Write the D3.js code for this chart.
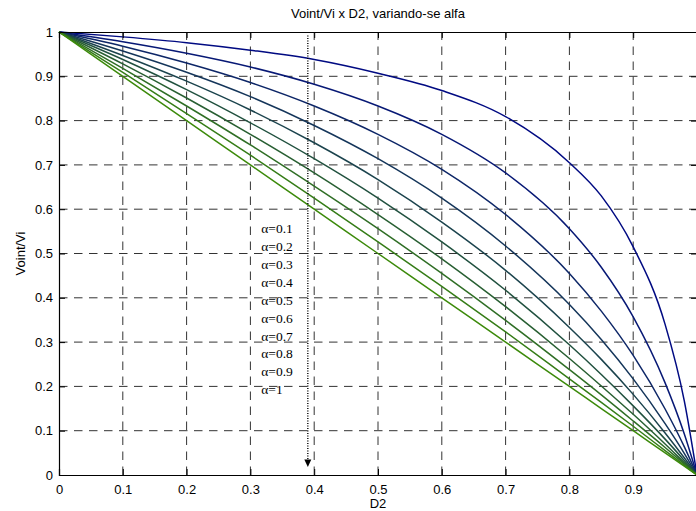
<!DOCTYPE html>
<html>
<head>
<meta charset="utf-8">
<script src="https://cdn.jsdelivr.net/npm/d3@7"></script>
<style>
    body { margin: 0; background: #fff; }
    svg { display: block; font-family: 'Liberation Sans', Arial, sans-serif; }
</style>
</head>
<body>
<div id="chart"></div>
<script>
// D2 sample points (x axis)
const d2 = [0, 0.1, 0.2, 0.3, 0.4, 0.5, 0.6, 0.7, 0.8, 0.85, 0.9, 0.95, 0.98, 1];

// alfa values, one curve each
const alphas = [0.1, 0.2, 0.3, 0.4, 0.5, 0.6, 0.7, 0.8, 0.9, 1];

// Voint/Vi, one row per alfa
const a01 = [1, 0.989, 0.976, 0.959, 0.938, 0.907, 0.868, 0.809, 0.705, 0.630, 0.515, 0.340, 0.168, 0];
const a02 = [1, 0.978, 0.952, 0.921, 0.882, 0.833, 0.769, 0.682, 0.556, 0.469, 0.357, 0.208, 0.093, 0];
const a03 = [1, 0.968, 0.930, 0.886, 0.833, 0.769, 0.690, 0.588, 0.455, 0.370, 0.270, 0.149, 0.064, 0];
const a04 = [1, 0.957, 0.909, 0.854, 0.789, 0.714, 0.625, 0.517, 0.385, 0.306, 0.217, 0.116, 0.049, 0];
const a05 = [1, 0.947, 0.889, 0.824, 0.750, 0.667, 0.571, 0.462, 0.333, 0.261, 0.182, 0.095, 0.039, 0];
const a06 = [1, 0.938, 0.870, 0.795, 0.714, 0.625, 0.526, 0.417, 0.294, 0.227, 0.156, 0.081, 0.033, 0];
const a07 = [1, 0.928, 0.851, 0.769, 0.682, 0.588, 0.488, 0.380, 0.263, 0.201, 0.137, 0.070, 0.028, 0];
const a08 = [1, 0.918, 0.833, 0.745, 0.652, 0.556, 0.455, 0.349, 0.238, 0.181, 0.122, 0.062, 0.025, 0];
const a09 = [1, 0.909, 0.816, 0.722, 0.625, 0.526, 0.426, 0.323, 0.217, 0.164, 0.110, 0.055, 0.022, 0];
const a10 = [1, 0.900, 0.800, 0.700, 0.600, 0.500, 0.400, 0.300, 0.200, 0.150, 0.100, 0.050, 0.020, 0];
const series = [a01, a02, a03, a04, a05, a06, a07, a08, a09, a10];

const xTicks = [0, 0.1, 0.2, 0.3, 0.4, 0.5, 0.6, 0.7, 0.8, 0.9];
const yTicks = [0, 0.1, 0.2, 0.3, 0.4, 0.5, 0.6, 0.7, 0.8, 0.9, 1];
const legendLabels = ['α=0.1', 'α=0.2', 'α=0.3', 'α=0.4', 'α=0.5', 'α=0.6', 'α=0.7', 'α=0.8', 'α=0.9', 'α=1'];
const arrowD2 = 0.39;

const width = 696, height = 511;
const margin = { left: 59, top: 32, right: -1, bottom: 36 };
const plotW = width - margin.left - margin.right;
const plotH = height - margin.top - margin.bottom;

const svg = d3.select('#chart').append('svg')
    .attr('width', width)
    .attr('height', height);

const x = d3.scaleLinear().domain([0, 1]).range([margin.left, margin.left + plotW]);
const y = d3.scaleLinear().domain([0, 1]).range([margin.top + plotH, margin.top]);

// grid
const grid = svg.append('g')
    .attr('stroke', '#333')
    .attr('stroke-width', 1)
    .attr('stroke-dasharray', '8.5,6.5');

grid.selectAll('line.gx')
    .data(xTicks.filter(t => t > 0))
    .enter().append('line')
    .attr('x1', d => x(d)).attr('x2', d => x(d))
    .attr('y1', y(0)).attr('y2', y(1));

grid.selectAll('line.gy')
    .data(yTicks.filter(t => t > 0 && t < 1))
    .enter().append('line')
    .attr('x1', x(0)).attr('x2', x(1))
    .attr('y1', d => y(d)).attr('y2', d => y(d));

// curves
const color = d3.scaleLinear()
    .domain([0.1, 1])
    .range(['#000a82', '#3c8a0a'])
    .interpolate(d3.interpolateRgb);

const line = d3.line()
    .x((d, i) => x(d2[i]))
    .y(d => y(d))
    .curve(d3.curveMonotoneX);

svg.append('g')
    .selectAll('path')
    .data(series)
    .enter().append('path')
    .attr('fill', 'none')
    .attr('stroke', (d, i) => color(alphas[i]))
    .attr('stroke-width', 1.5)
    .attr('d', line);

// axes box
const xAxis = d3.axisBottom(x).tickValues(xTicks).tickSize(-6).tickPadding(10).tickFormat(d3.format('~g'));
const yAxis = d3.axisLeft(y).tickValues(yTicks).tickSize(-6).tickPadding(6).tickFormat(d3.format('~g'));

svg.append('g')
    .attr('transform', `translate(0,${y(0)})`)
    .call(xAxis)
    .call(g => g.select('.domain').attr('stroke-width', 1.2))
    .call(g => g.selectAll('text').attr('font-size', 13).attr('fill', '#000').attr('font-family', 'Liberation Sans, Arial, sans-serif'));

svg.append('g')
    .attr('transform', `translate(${x(0)},0)`)
    .call(yAxis)
    .call(g => g.select('.domain').attr('stroke-width', 1.2))
    .call(g => g.selectAll('text').attr('font-size', 13).attr('fill', '#000').attr('font-family', 'Liberation Sans, Arial, sans-serif'));

svg.append('g')
    .attr('transform', `translate(0,${y(1)})`)
    .call(d3.axisTop(x).tickValues(xTicks.filter(t => t > 0)).tickSize(-6).tickFormat(''))
    .call(g => g.select('.domain').attr('stroke-width', 1.2));

svg.append('g')
    .attr('transform', `translate(${x(1)},0)`)
    .call(d3.axisRight(y).tickValues(yTicks).tickSize(-6).tickFormat(''))
    .call(g => g.select('.domain').attr('stroke-width', 1.2));

// alfa labels
svg.append('g')
    .selectAll('text')
    .data(legendLabels)
    .enter().append('text')
    .attr('x', x(0.317))
    .attr('y', (d, i) => y(0.546) + i * 17.9)
    .attr('font-family', 'Liberation Serif, Times New Roman, serif')
    .attr('font-size', 13.5)
    .text(d => d);

// dotted arrow
svg.append('line')
    .attr('x1', x(arrowD2)).attr('x2', x(arrowD2))
    .attr('y1', y(0.992)).attr('y2', y(0.035))
    .attr('stroke', '#000')
    .attr('stroke-width', 1.4)
    .attr('stroke-dasharray', '1,1.5');

svg.append('path')
    .attr('d', `M${x(arrowD2) - 3.5},${y(0.035)} L${x(arrowD2) + 3.5},${y(0.035)} L${x(arrowD2)},${y(0.018)} Z`)
    .attr('fill', '#000');

// titles
svg.append('text')
    .attr('x', x(0.5)).attr('y', 18)
    .attr('text-anchor', 'middle')
    .attr('font-size', 13)
    .text('Voint/Vi x D2, variando-se alfa');

svg.append('text')
    .attr('x', x(0.5)).attr('y', 508)
    .attr('text-anchor', 'middle')
    .attr('font-size', 13)
    .text('D2');

svg.append('text')
    .attr('transform', `translate(25,${y(0.5)}) rotate(-90)`)
    .attr('text-anchor', 'middle')
    .attr('font-size', 13)
    .text('Voint/Vi');
</script>
</body>
</html>
